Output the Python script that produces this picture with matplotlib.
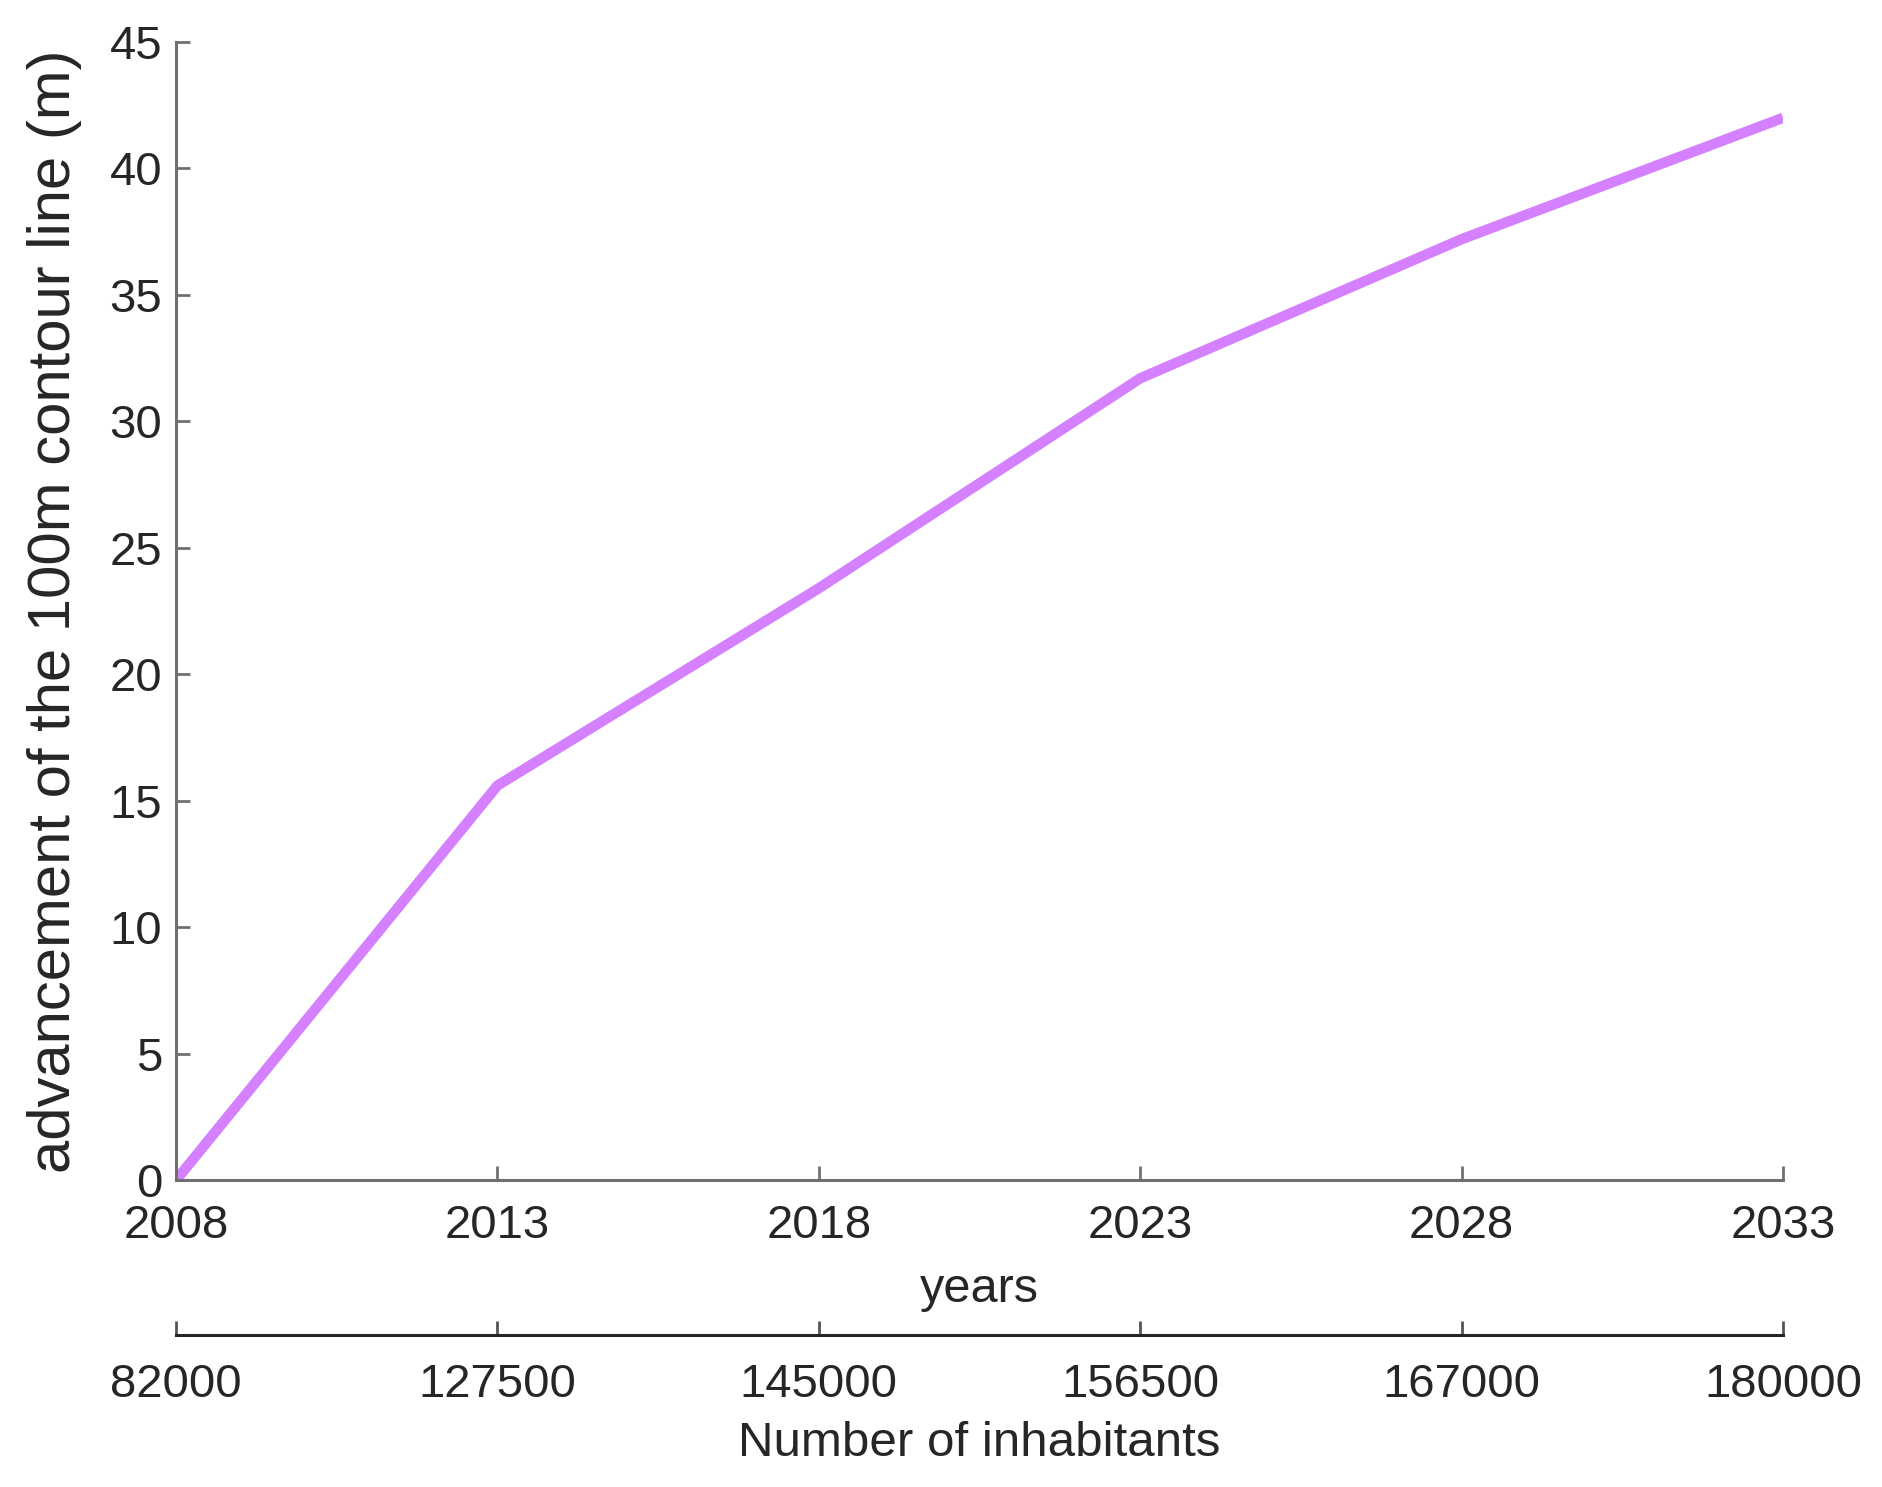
import matplotlib.pyplot as plt

plt.rcParams['font.family'] = ['Liberation Sans', 'DejaVu Sans']

# data
years = [2008, 2013, 2018, 2023, 2028, 2033]
advance_m = [0.0, 15.6, 23.4, 31.7, 37.2, 42.0]
inhabitants = ['82000', '127500', '145000', '156500', '167000', '180000']
y_ticks = [0, 5, 10, 15, 20, 25, 30, 35, 40, 45]

fig = plt.figure(figsize=(18.83, 14.87), dpi=100)
ax = fig.add_axes([0.0935, 0.2064, 0.8534, 0.7654])

ax.plot(years, advance_m, color='#d580ff', linewidth=7.5, solid_capstyle='butt')
ax.set_xlim(2008, 2033)
ax.set_ylim(0, 45)
ax.set_xticks(years)
ax.set_yticks(y_ticks)

for s in ['top', 'right']:
    ax.spines[s].set_visible(False)
for s in ['left', 'bottom']:
    ax.spines[s].set_color('#707070')
    ax.spines[s].set_linewidth(2.2)

ax.tick_params(direction='in', length=10, width=2, color='#707070',
               labelsize=34, labelcolor='#262626')
ax.tick_params(axis='x', pad=17)
ax.tick_params(axis='y', pad=10)
ax.set_xlabel('years', fontsize=35, color='#262626', labelpad=14)
ax.set_ylabel('advancement of the 100m contour line (m)', fontsize=43,
              color='#262626', labelpad=20)

# second x axis with the number of inhabitants
ax2 = ax.twiny()
ax2.set_xlim(ax.get_xlim())
ax2.xaxis.set_ticks_position('bottom')
ax2.xaxis.set_label_position('bottom')
ax2.spines['bottom'].set_position(('outward', 111.6))
for s in ['top', 'right', 'left']:
    ax2.spines[s].set_visible(False)
ax2.spines['bottom'].set_color('#262626')
ax2.spines['bottom'].set_linewidth(2.2)
ax2.set_xticks(years)
ax2.set_xticklabels(inhabitants)
ax2.tick_params(direction='in', length=10, width=2, color='#555555',
                labelsize=34, labelcolor='#262626', pad=20)
ax2.set_xlabel('Number of inhabitants', fontsize=35.5, color='#262626', labelpad=10)

fig.savefig('out.png', dpi=100)
